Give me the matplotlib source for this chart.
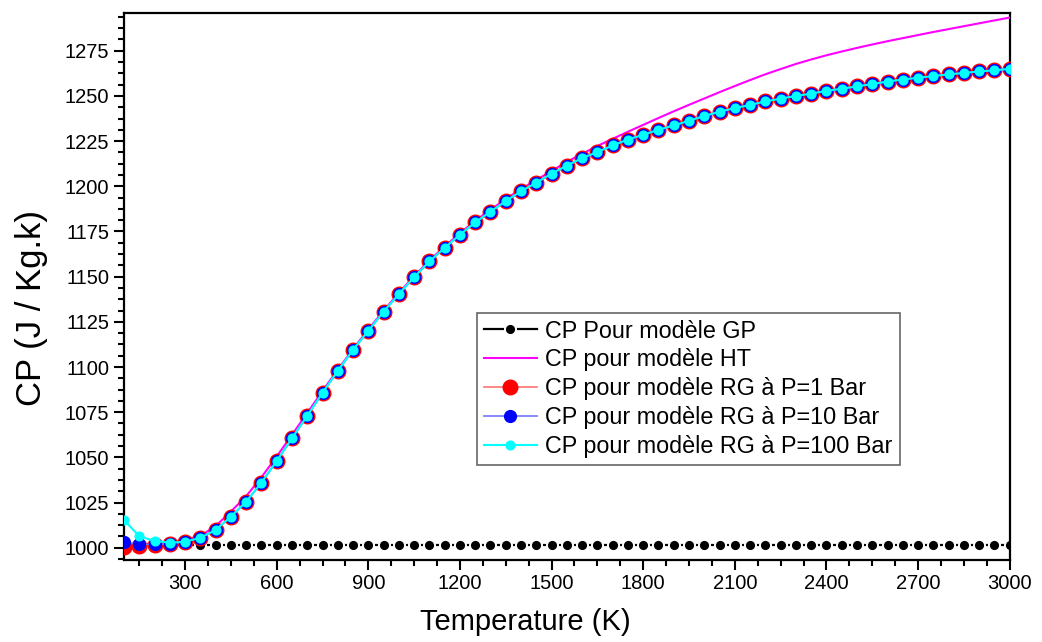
import matplotlib
matplotlib.use("Agg")
import matplotlib.pyplot as plt
from matplotlib.ticker import MultipleLocator

plt.rcParams['font.family'] = ['Liberation Sans', 'DejaVu Sans']

# temperature grid (K), one point every 50 K
temps = list(range(100, 3001, 50))

# GP model : constant cp
cp_gp = [1001.4] * len(temps)

# HT model
cp_ht = [1002.0, 1002.0, 1002.2, 1002.8, 1004.0, 1006.5, 1012.0, 1020.0, 1028.5, 1039.0,
         1050.5, 1062.5, 1074.5, 1086.8, 1098.5, 1110.0, 1120.8, 1131.2, 1141.0, 1150.3,
         1159.0, 1166.7, 1174.0, 1181.0, 1187.0, 1193.0, 1198.5, 1203.5, 1208.5, 1213.5,
         1218.0, 1222.3, 1226.3, 1230.2, 1234.0, 1237.8, 1241.5, 1245.1, 1248.6, 1252.1,
         1255.5, 1258.8, 1262.0, 1264.9, 1267.7, 1270.2, 1272.5, 1274.6, 1276.6, 1278.5,
         1280.3, 1282.0, 1283.7, 1285.4, 1287.0, 1288.6, 1290.2, 1291.8, 1293.4]

# RG model, low temperature part (100..300 K) for each pressure
rg_head_1 = [1000.6, 1000.9, 1001.3, 1002.0, 1003.0]
rg_head_10 = [1003.0, 1001.9, 1001.8, 1002.2, 1003.1]
rg_head_100 = [1015.3, 1006.4, 1003.7, 1002.8, 1003.3]

# RG model, 350..3000 K (same for the three pressures)
rg_tail = [1005.5, 1009.8, 1017.2, 1025.5, 1036.0, 1048.0, 1060.6, 1073.0, 1085.7, 1097.9,
           1109.5, 1120.1, 1130.6, 1140.4, 1149.7, 1158.5, 1165.9, 1173.3, 1180.0, 1186.0,
           1191.8, 1197.3, 1202.0, 1207.0, 1211.5, 1215.6, 1219.0, 1222.6, 1225.9, 1228.5,
           1231.3, 1233.7, 1236.3, 1238.9, 1241.3, 1243.3, 1245.0, 1247.0, 1248.5, 1250.0,
           1251.3, 1252.8, 1254.0, 1255.3, 1256.6, 1258.0, 1259.1, 1260.1, 1261.0, 1262.0,
           1262.7, 1263.6, 1264.2, 1265.0]

cp_rg_1 = rg_head_1 + rg_tail
cp_rg_10 = rg_head_10 + rg_tail
cp_rg_100 = rg_head_100 + rg_tail

fig = plt.figure(figsize=(10.42, 6.42), dpi=100)
ax = fig.add_axes([0.119, 0.128, 0.850, 0.852])

ax.plot(temps, cp_gp, color='black', lw=1.6, marker='o', ms=8,
        mfc='black', mec='white', mew=1.4, label='CP Pour modèle GP', zorder=2)
ax.plot(temps, cp_ht, color='magenta', lw=1.5, label='CP pour modèle HT', zorder=3)
ax.plot(temps, cp_rg_1, color=(1, 0.45, 0.45), lw=1.2, marker='o', ms=10.5,
        mfc='red', mec='red', label='CP pour modèle RG à P=1 Bar', zorder=4)
ax.plot(temps, cp_rg_10, color=(0.45, 0.45, 1), lw=1.2, marker='o', ms=8.5,
        mfc='blue', mec='blue', label='CP pour modèle RG à P=10 Bar', zorder=5)
ax.plot(temps, cp_rg_100, color='cyan', lw=1.5, marker='o', ms=6.3,
        mfc='cyan', mec='cyan', label='CP pour modèle RG à P=100 Bar', zorder=6)

ax.set_xlim(100, 3000)
ax.set_ylim(993.3, 1296)
ax.xaxis.set_major_locator(MultipleLocator(300))
ax.xaxis.set_minor_locator(MultipleLocator(75))
ax.yaxis.set_major_locator(MultipleLocator(25))
ax.yaxis.set_minor_locator(MultipleLocator(6.25))

ax.tick_params(which='both', direction='out', width=1.5, labelsize=14.5,
               top=False, right=False)
ax.tick_params(which='major', length=7)
ax.tick_params(which='minor', length=4)
for s in ax.spines.values():
    s.set_linewidth(1.6)

ax.set_xlabel('Temperature (K)', fontsize=21)
ax.set_ylabel('CP (J / Kg.k)', fontsize=25)
ax.xaxis.set_label_coords(0.453, -0.088)
ax.yaxis.set_label_coords(-0.086, 0.46)

leg = ax.legend(loc='upper left', bbox_to_anchor=(0.398, 0.452), fontsize=16.8,
                frameon=True, fancybox=False, edgecolor='#404040',
                handlelength=2.3, handletextpad=0.35, borderpad=0.3,
                borderaxespad=0, labelspacing=0.25)
leg.get_frame().set_linewidth(1.2)

fig.savefig('out.png', dpi=100)
